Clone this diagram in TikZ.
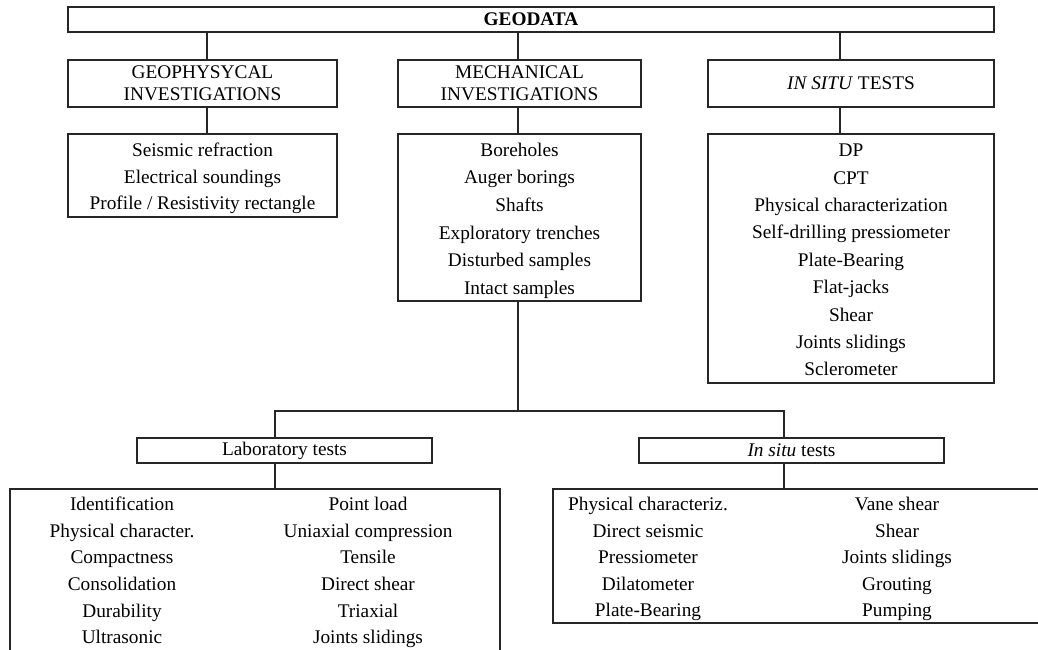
\documentclass[tikz,border=0pt]{standalone}
\usepackage{fontspec}
\setmainfont{Liberation Serif}
\newcommand{\tS}{\rule{0pt}{20.5pt}}
\newcommand{\bS}{\rule[-5pt]{0pt}{5pt}}
\begin{document}
\begin{tikzpicture}[x=1pt,y=-1pt,
  ln/.style={line width=1.2pt, draw=black!85},
  bx/.style={ln, inner sep=0pt, align=center, font=\fontsize{19.3}{22}\selectfont},
  lst/.style={inner sep=0pt, align=center},
  sz/.style 2 args={minimum width=#1pt, minimum height=#2pt}]
\useasboundingbox (0,0) rectangle (1038,649);
\clip (0,0) rectangle (1038,649);
% level 1
\node[bx, sz={926}{25}] (geodata) at (531,19.5) {\textbf{GEODATA}};
% level 2
\node[bx, sz={269}{47}] (geo) at (202.5,83.5) {GEOPHYSYCAL\\INVESTIGATIONS};
\node[bx, sz={243}{47}] (mech) at (519.5,83.5) {MECHANICAL\\INVESTIGATIONS};
\node[bx, sz={286}{47}] (ins) at (851,83.5) {\textit{IN SITU} TESTS};
% level 3
\node[bx, sz={269}{83}, font=\fontsize{19.3}{26.5}\selectfont] (geol) at (202.5,175.5)
  {\tS Seismic refraction\\Electrical soundings\\Profile / Resistivity rectangle\bS};
\node[bx, sz={243}{167}, font=\fontsize{19.3}{27.6}\selectfont] (mechl) at (519.5,217.5)
  {\tS Boreholes\\Auger borings\\Shafts\\Exploratory trenches\\Disturbed samples\\Intact samples\bS};
\node[bx, sz={286}{249}, font=\fontsize{19.3}{27.4}\selectfont] (insl) at (851,258.5)
  {\tS DP\\CPT\\Physical characterization\\Self-drilling pressiometer\\Plate-Bearing\\Flat-jacks\\Shear\\Joints slidings\\Sclerometer\bS};
% level 4
\node[bx, sz={295}{25}] (lab) at (284.5,450.5) {Laboratory tests};
\node[bx, sz={305}{25}] (ist) at (791.5,450.5) {\textit{In situ} tests};
% level 5
\node[ln, inner sep=0pt, sz={490}{211}] (labl) at (255,594.5) {};
\node[ln, inner sep=0pt, sz={497}{134}] (istl) at (801.5,556) {};
\begin{scope}[every node/.style={lst, font=\fontsize{19.3}{26.6}\selectfont}]
\node (labA) at (122,569.5) {\tS Identification\\Physical character.\\Compactness\\Consolidation\\Durability\\Ultrasonic\bS};
\node (labB) at (368,569.5) {\tS Point load\\Uniaxial compression\\Tensile\\Direct shear\\Triaxial\\Joints slidings\bS};
\node (istA) at (648,556) {\tS Physical characteriz.\\Direct seismic\\Pressiometer\\Dilatometer\\Plate-Bearing\bS};
\node (istB) at (897,556) {\tS Vane shear\\Shear\\Joints slidings\\Grouting\\Pumping\bS};
\end{scope}
% connectors
\draw[ln] ([xshift=4.5pt]geo.north) -- ([xshift=4.5pt]geo.north |- geodata.south);
\draw[ln] ([xshift=-1.5pt]mech.north) -- ([xshift=-1.5pt]mech.north |- geodata.south);
\draw[ln] ([xshift=-11pt]ins.north) -- ([xshift=-11pt]ins.north |- geodata.south);
\draw[ln] ([xshift=4.5pt]geo.south) -- ([xshift=4.5pt]geo.south |- geol.north);
\draw[ln] ([xshift=-1.5pt]mech.south) -- ([xshift=-1.5pt]mech.south |- mechl.north);
\draw[ln] ([xshift=-11pt]ins.south) -- ([xshift=-11pt]ins.south |- insl.north);
\coordinate (j) at (518,411);
\draw[ln] ([xshift=-1.5pt]mechl.south) -- (j);
\draw[ln] (j) -| ([xshift=-9.5pt]lab.north);
\draw[ln] (j) -| ([xshift=-7.5pt]ist.north);
\draw[ln] ([xshift=-9.5pt]lab.south) -- ([xshift=-9.5pt]lab.south |- labl.north);
\draw[ln] ([xshift=-7.5pt]ist.south) -- ([xshift=-7.5pt]ist.south |- istl.north);
\end{tikzpicture}
\end{document}
